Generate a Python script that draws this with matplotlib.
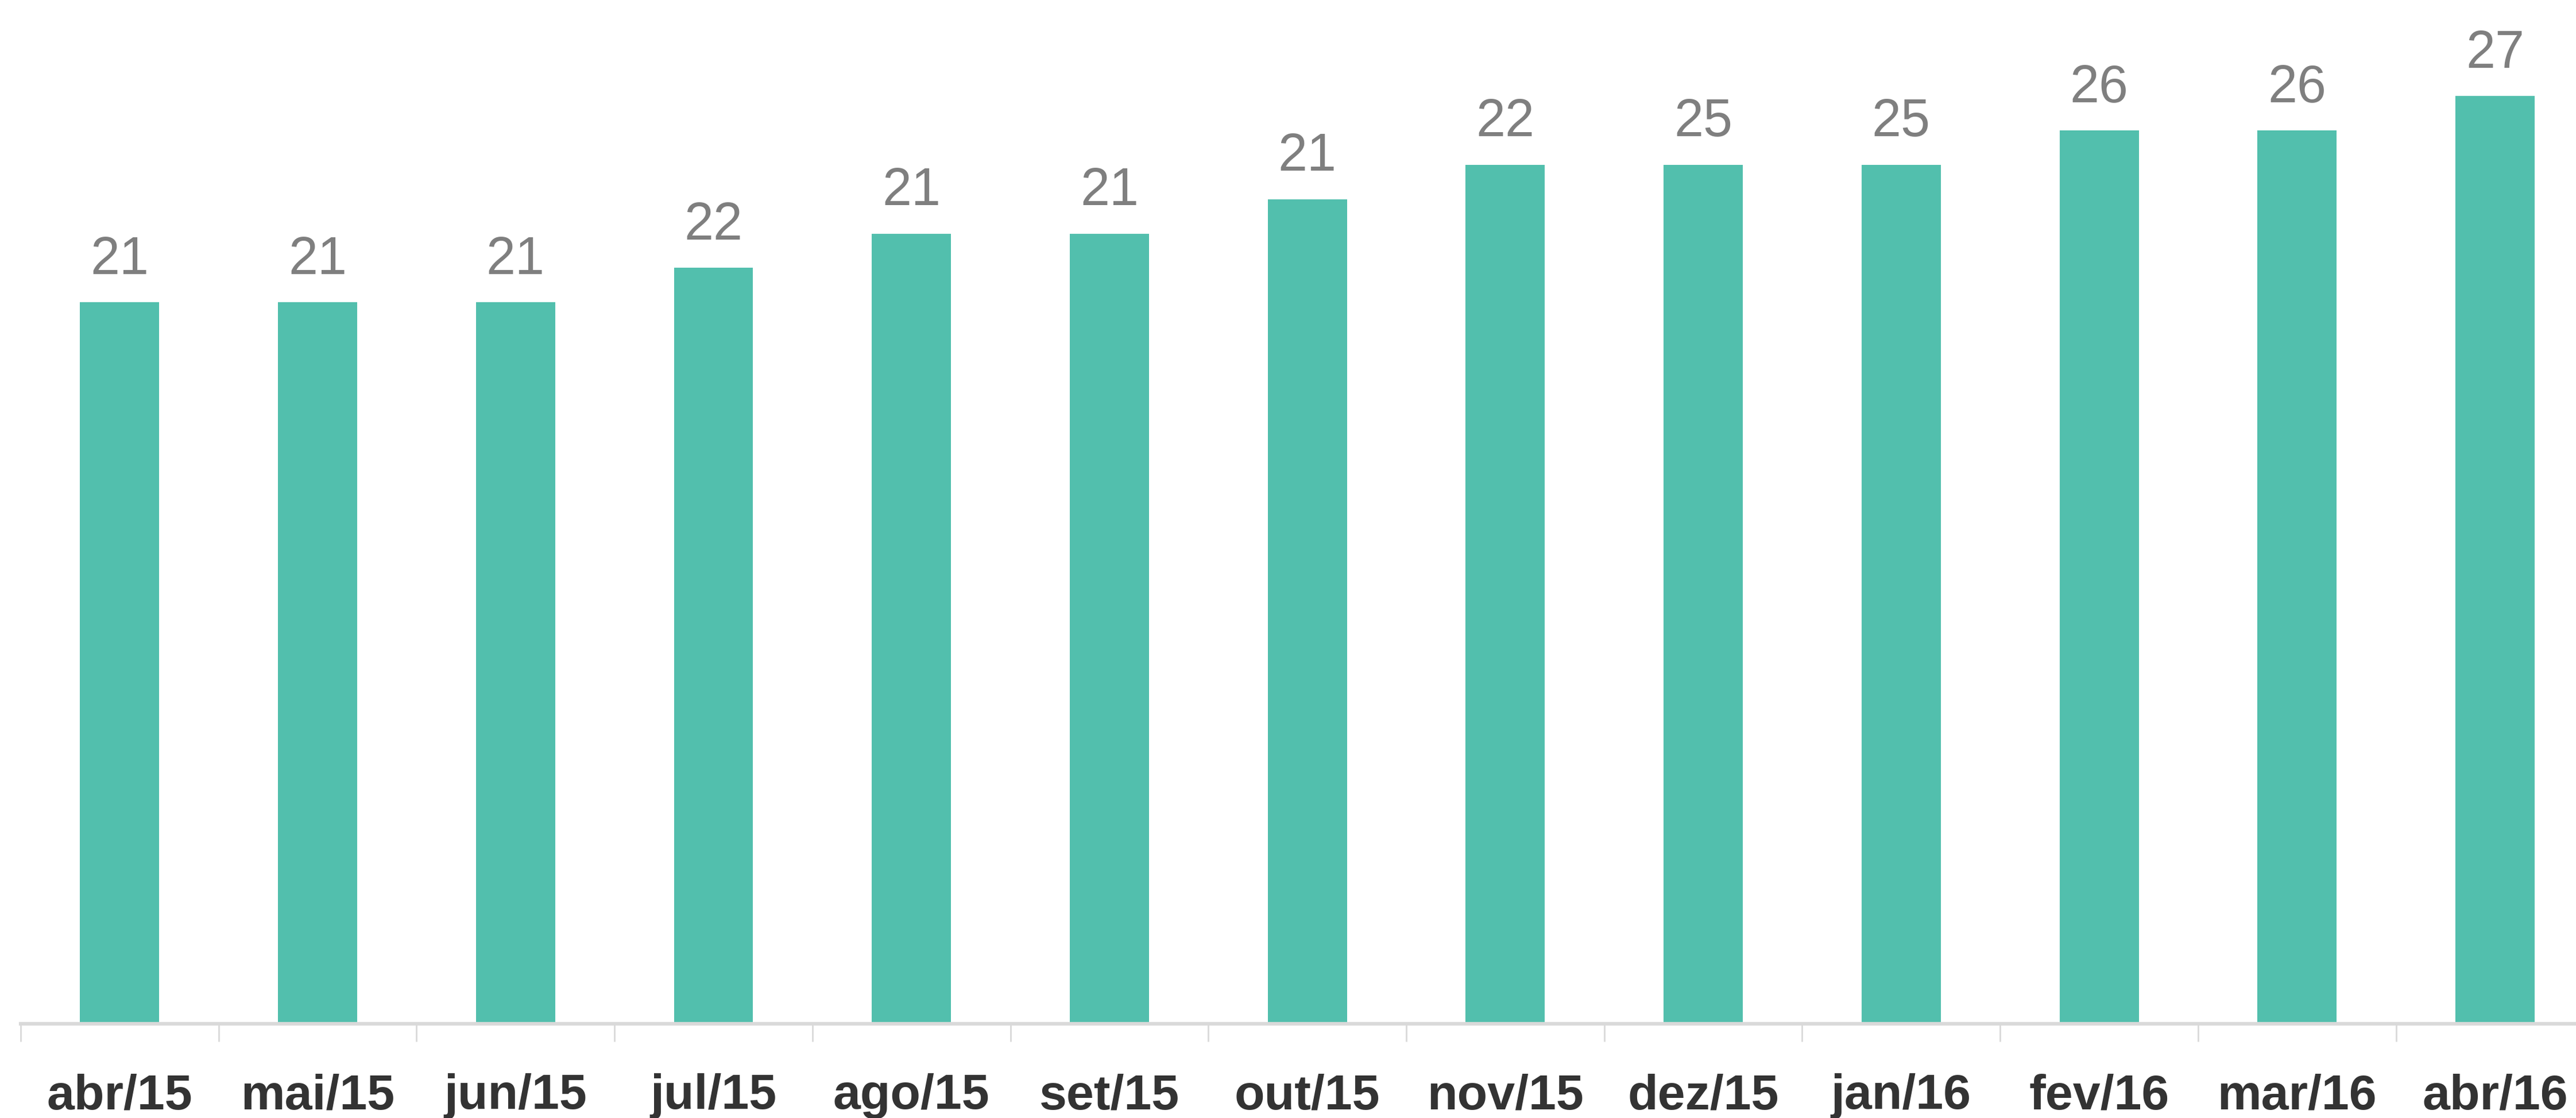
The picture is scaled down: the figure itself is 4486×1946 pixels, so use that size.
import matplotlib
matplotlib.use("Agg")
import matplotlib.pyplot as plt
from matplotlib.ticker import FixedLocator

months = ["abr/15", "mai/15", "jun/15", "jul/15", "ago/15", "set/15", "out/15",
          "nov/15", "dez/15", "jan/16", "fev/16", "mar/16", "abr/16"]
# bar heights as drawn in the picture
heights = [21, 21, 21, 22, 23, 23, 24, 25, 25, 25, 26, 26, 27]
# numbers printed above the bars
shown = [21, 21, 21, 22, 21, 21, 21, 22, 25, 25, 26, 26, 27]

bar_color = "#52bfad"
fonts = ["Liberation Sans Narrow", "Liberation Sans", "DejaVu Sans"]

fig = plt.figure(figsize=(44.86, 19.46), dpi=100)
ax = fig.add_axes([0.008, 0.0843, 0.999, 0.9157])

x = list(range(len(months)))
bars = ax.bar(x, heights, width=0.40, color=bar_color, zorder=2)

for b, lab in zip(bars, shown):
    ax.annotate(str(lab), (b.get_x() + b.get_width() / 2, b.get_height()),
                xytext=(0, 22), textcoords="offset points",
                ha="center", va="bottom", fontsize=66, color="#7f7f7f",
                family=fonts)

ax.set_xlim(-0.5, len(months) - 0.5)
ax.set_ylim(0, 29.8)

for side in ["top", "right", "left"]:
    ax.spines[side].set_visible(False)
ax.spines["bottom"].set_color("#d9d9d9")
ax.spines["bottom"].set_linewidth(4.5)

ax.set_yticks([])
ax.set_xticks(x)
ax.set_xticklabels(months, fontsize=62, fontweight="bold", color="#333333",
                   family=fonts)
ax.tick_params(axis="x", which="major", length=0, pad=62)
ax.xaxis.set_minor_locator(FixedLocator([i - 0.5 for i in range(len(months) + 1)]))
ax.tick_params(axis="x", which="minor", length=22, width=2, color="#d9d9d9",
               direction="out")

fig.savefig("out.png", dpi=100)
